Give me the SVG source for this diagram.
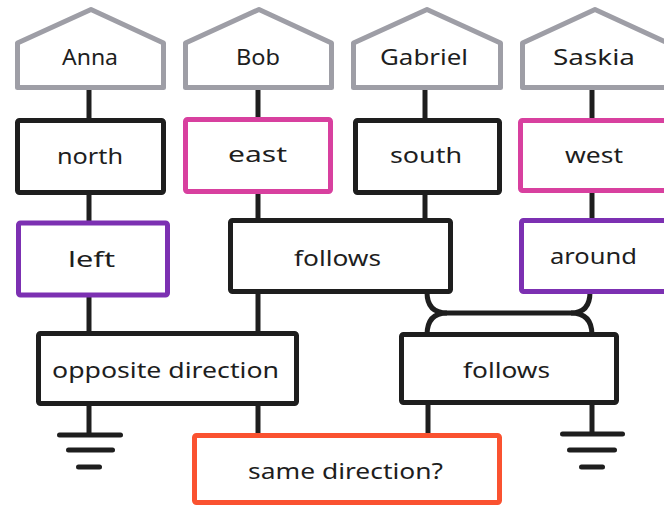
<svg xmlns="http://www.w3.org/2000/svg" width="664" height="509" viewBox="0 0 664 509">
<defs>
<style>
.bg{fill:#ffffff}
.house{fill:#ffffff;stroke:#9e9ea6;stroke-width:5;stroke-linejoin:round}
.box{fill:#ffffff;stroke:#1e1e1e;stroke-width:5}
.pink{fill:#ffffff;stroke:#d8409f;stroke-width:5}
.purple{fill:#ffffff;stroke:#7c30b2;stroke-width:5}
.red{fill:#ffffff;stroke:#fa5230;stroke-width:5}
.wire{fill:none;stroke:#1e1e1e;stroke-width:5;stroke-linecap:butt}
.gnd{fill:none;stroke:#1e1e1e;stroke-width:5;stroke-linecap:round}
text{font-family:"Noto Sans","Liberation Sans",sans-serif;font-size:21px;fill:#1e1e1e;text-anchor:middle;dominant-baseline:central}
</style>
</defs>
<rect class="bg" x="0" y="0" width="664" height="509"/>
<g id="connectors">
<line class="wire" x1="89" y1="89" x2="89" y2="120"/>
<line class="wire" x1="258" y1="89" x2="258" y2="119"/>
<line class="wire" x1="425" y1="89" x2="425" y2="120"/>
<line class="wire" x1="592" y1="89" x2="592" y2="120"/>
<line class="wire" x1="89" y1="193" x2="89" y2="223"/>
<line class="wire" x1="258" y1="192" x2="258" y2="221"/>
<line class="wire" x1="425" y1="193" x2="425" y2="221"/>
<line class="wire" x1="592" y1="191" x2="592" y2="221"/>
<line class="wire" x1="89" y1="295" x2="89" y2="334"/>
<line class="wire" x1="258" y1="292" x2="258" y2="334"/>
<path class="wire" d="M427,292 Q427,313 447,313 L571,313 Q590,313 590,292"/>
<path class="wire" d="M447,313 Q427,313 427,335"/>
<path class="wire" d="M571,313 Q592,313 592,335"/>
<line class="wire" x1="89" y1="404" x2="89" y2="435"/>
<line class="wire" x1="258" y1="404" x2="258" y2="436"/>
<line class="wire" x1="428" y1="403" x2="428" y2="436"/>
<line class="wire" x1="592" y1="403" x2="592" y2="434"/>
<line class="gnd" x1="59.5" y1="435" x2="120.5" y2="435"/>
<line class="gnd" x1="68.5" y1="450" x2="112.5" y2="450"/>
<line class="gnd" x1="78.5" y1="467" x2="99.5" y2="467"/>
<line class="gnd" x1="562.5" y1="434" x2="622.5" y2="434"/>
<line class="gnd" x1="569.5" y1="450" x2="614.5" y2="450"/>
<line class="gnd" x1="581.5" y1="467" x2="602.5" y2="467"/>
</g>
<g id="anna">
<path class="house" d="M17.5,43 L91,9.5 L163.5,43 L163.5,87.5 L17.5,87.5 Z"/>
<text x="90" y="57" textLength="56" lengthAdjust="spacingAndGlyphs">Anna</text>
</g>
<g id="bob">
<path class="house" d="M185.5,43 L259,9.5 L331.5,43 L331.5,87.5 L185.5,87.5 Z"/>
<text x="258" y="57" textLength="44" lengthAdjust="spacingAndGlyphs">Bob</text>
</g>
<g id="gabriel">
<path class="house" d="M353.5,43 L427,9.5 L500.5,43 L500.5,87.5 L353.5,87.5 Z"/>
<text x="424" y="57" textLength="88" lengthAdjust="spacingAndGlyphs">Gabriel</text>
</g>
<g id="saskia">
<path class="house" d="M522.5,43 L595,9.5 L668,43 L668,87.5 L522.5,87.5 Z"/>
<text x="594" y="57" textLength="82" lengthAdjust="spacingAndGlyphs">Saskia</text>
</g>
<g id="north">
<rect class="box" x="17.5" y="120.5" width="146" height="72" rx="2"/>
<text x="90" y="156" textLength="66" lengthAdjust="spacingAndGlyphs">north</text>
</g>
<g id="east">
<rect class="pink" x="185.5" y="119.5" width="145" height="72" rx="2"/>
<text x="257.5" y="154" textLength="59" lengthAdjust="spacingAndGlyphs">east</text>
</g>
<g id="south">
<rect class="box" x="355.5" y="120.5" width="144" height="72" rx="2"/>
<text x="426" y="155" textLength="72" lengthAdjust="spacingAndGlyphs">south</text>
</g>
<g id="west">
<rect class="pink" x="520.5" y="120.5" width="150" height="70" rx="2"/>
<text x="594" y="155" textLength="58" lengthAdjust="spacingAndGlyphs">west</text>
</g>
<g id="left">
<rect class="purple" x="18.5" y="223" width="149" height="72" rx="2"/>
<text x="91.5" y="259" textLength="47" lengthAdjust="spacingAndGlyphs">left</text>
</g>
<g id="follows1">
<rect class="box" x="230.5" y="220.5" width="220" height="71" rx="2"/>
<text x="337.5" y="258" textLength="87" lengthAdjust="spacingAndGlyphs">follows</text>
</g>
<g id="around">
<rect class="purple" x="521.5" y="220.5" width="150" height="71" rx="2"/>
<text x="593.5" y="256" textLength="87" lengthAdjust="spacingAndGlyphs">around</text>
</g>
<g id="opposite">
<rect class="box" x="38.5" y="333.5" width="258" height="70" rx="2"/>
<text x="165.5" y="370" textLength="227" lengthAdjust="spacingAndGlyphs">opposite direction</text>
</g>
<g id="follows2">
<rect class="box" x="401.5" y="334.5" width="215" height="68" rx="2"/>
<text x="506.5" y="370" textLength="87" lengthAdjust="spacingAndGlyphs">follows</text>
</g>
<g id="same">
<rect class="red" x="194.5" y="435.5" width="305" height="67" rx="2"/>
<text x="345.5" y="471" textLength="195" lengthAdjust="spacingAndGlyphs">same direction?</text>
</g>
</svg>
